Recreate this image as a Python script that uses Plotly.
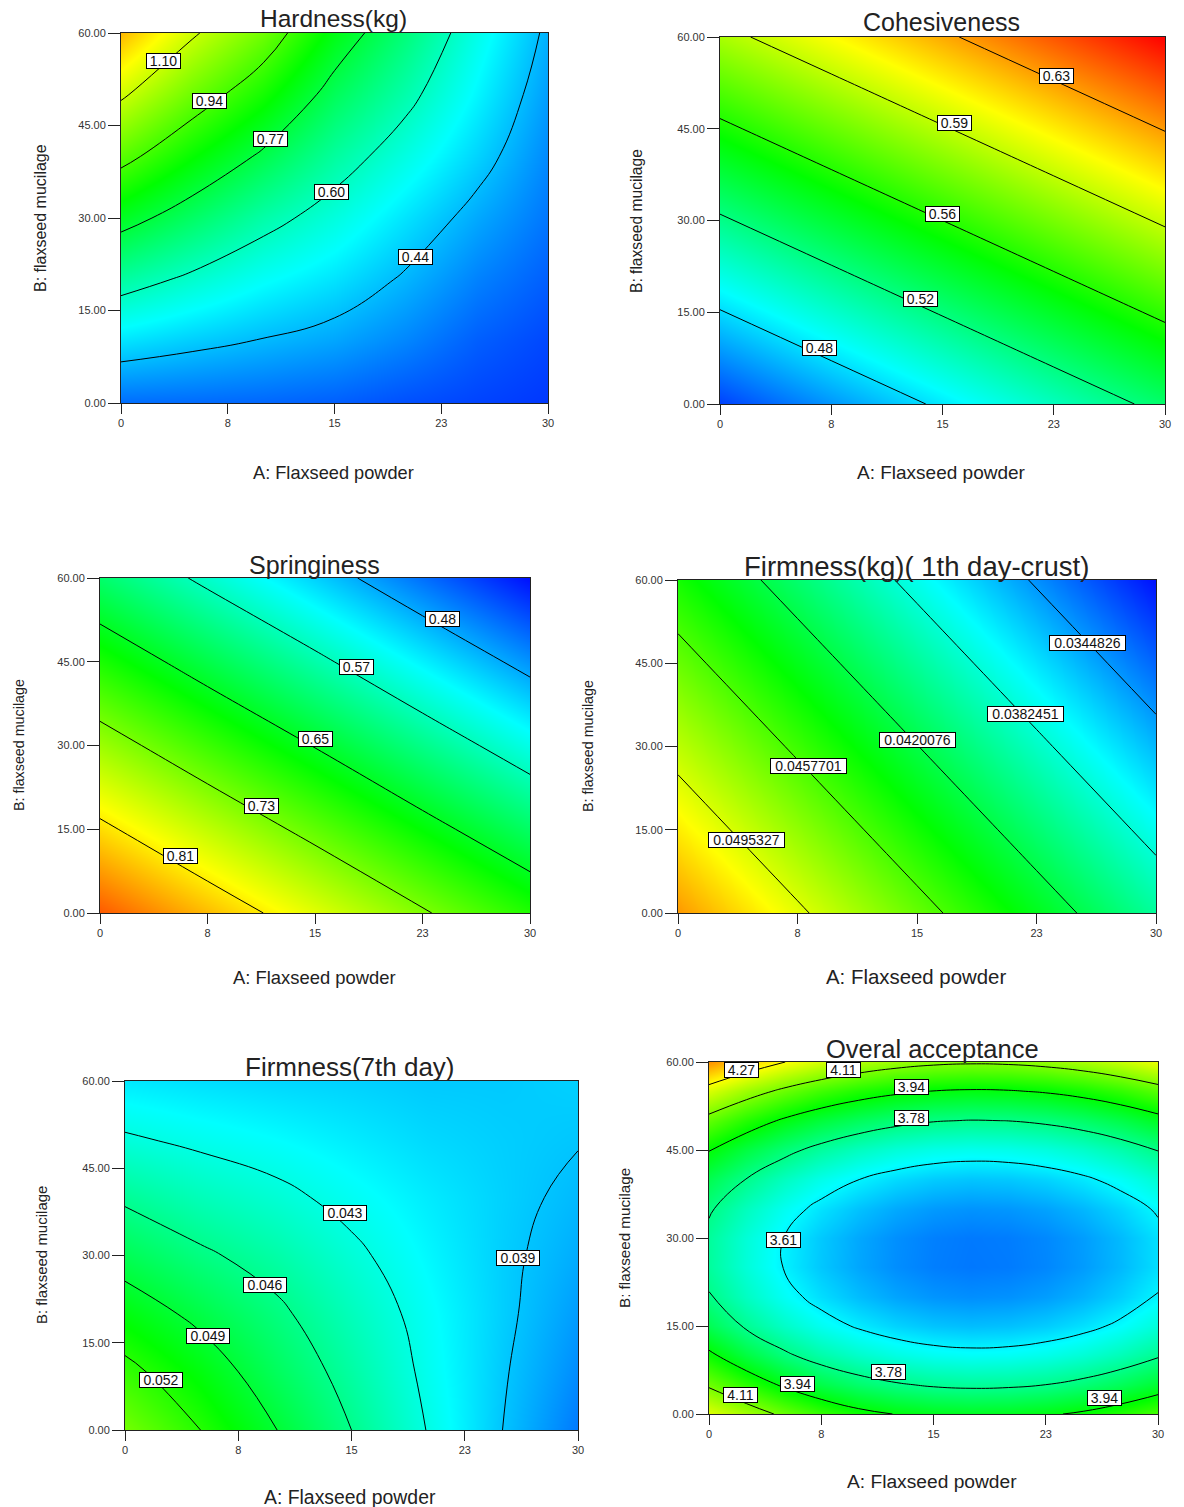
import plotly.graph_objects as go

W, H = 1184, 1507
FONT = "Liberation Sans"

X7 = [0, 5, 10, 15, 20, 25, 30]
Y7 = [0, 10, 20, 30, 40, 50, 60]
X5 = [0, 7.5, 15, 22.5, 30]
Y5 = [0, 15, 30, 45, 60]
X13 = [0, 2.5, 5, 7.5, 10, 12.5, 15, 17.5, 20, 22.5, 25, 27.5, 30]
Y13 = [0, 5, 10, 15, 20, 25, 30, 35, 40, 45, 50, 55, 60]

X_TICKS = [0, 7.5, 15, 22.5, 30]
X_TICKTEXT = ["0", "8", "15", "23", "30"]
Y_TICKS = [0, 15, 30, 45, 60]
Y_TICKTEXT = ["0.00", "15.00", "30.00", "45.00", "60.00"]

HARDNESS = [
    [0.338, 0.335, 0.330, 0.320, 0.300, 0.285, 0.270],
    [0.491, 0.461, 0.435, 0.410, 0.370, 0.320, 0.290],
    [0.645, 0.587, 0.532, 0.489, 0.430, 0.365, 0.320],
    [0.807, 0.722, 0.636, 0.566, 0.490, 0.415, 0.350],
    [0.965, 0.856, 0.755, 0.648, 0.560, 0.470, 0.375],
    [1.114, 0.987, 0.874, 0.735, 0.630, 0.515, 0.400],
    [1.265, 1.113, 0.992, 0.825, 0.695, 0.553, 0.425],
]
COHESIVENESS = [
    [0.445, 0.465, 0.485, 0.505, 0.525],
    [0.481, 0.501, 0.521, 0.541, 0.561],
    [0.517, 0.537, 0.557, 0.577, 0.597],
    [0.553, 0.573, 0.593, 0.613, 0.633],
    [0.589, 0.609, 0.629, 0.649, 0.669],
]
SPRINGINESS = [
    [0.892, 0.839, 0.787, 0.734, 0.682],
    [0.821, 0.768, 0.716, 0.663, 0.611],
    [0.750, 0.697, 0.645, 0.592, 0.540],
    [0.679, 0.626, 0.574, 0.521, 0.469],
    [0.608, 0.555, 0.503, 0.450, 0.398],
]
FIRMNESS_1 = [
    [0.05322, 0.04986, 0.04650, 0.04314, 0.03978],
    [0.05100, 0.04764, 0.04428, 0.04092, 0.03756],
    [0.04878, 0.04542, 0.04206, 0.03870, 0.03534],
    [0.04656, 0.04320, 0.03984, 0.03648, 0.03312],
    [0.04434, 0.04098, 0.03762, 0.03426, 0.03090],
]
FIRMNESS_7 = [
    [0.0553, 0.0523, 0.0491, 0.0458, 0.0425, 0.0393, 0.0365],
    [0.0530, 0.0505, 0.0476, 0.0449, 0.0421, 0.0395, 0.0372],
    [0.0505, 0.0484, 0.0463, 0.0440, 0.0418, 0.0397, 0.0378],
    [0.0479, 0.0462, 0.0448, 0.0430, 0.0413, 0.0397, 0.0384],
    [0.0454, 0.0441, 0.0431, 0.0419, 0.0408, 0.0398, 0.0389],
    [0.0428, 0.0421, 0.0415, 0.0408, 0.0401, 0.0397, 0.0394],
    [0.0407, 0.0403, 0.0400, 0.0398, 0.0395, 0.0395, 0.0398],
]
ACCEPTANCE = [
    [4.235, 4.160, 4.085, 4.020, 3.968, 3.937, 3.917, 3.909, 3.913, 3.928, 3.954, 3.992, 4.041],
    [4.090, 4.005, 3.925, 3.860, 3.815, 3.784, 3.764, 3.756, 3.760, 3.775, 3.801, 3.839, 3.888],
    [3.960, 3.868, 3.792, 3.734, 3.692, 3.661, 3.641, 3.633, 3.637, 3.652, 3.678, 3.716, 3.765],
    [3.845, 3.763, 3.697, 3.643, 3.601, 3.570, 3.550, 3.542, 3.546, 3.561, 3.587, 3.625, 3.674],
    [3.780, 3.703, 3.637, 3.583, 3.541, 3.510, 3.490, 3.482, 3.486, 3.501, 3.527, 3.565, 3.614],
    [3.751, 3.674, 3.608, 3.554, 3.512, 3.481, 3.461, 3.453, 3.457, 3.472, 3.498, 3.536, 3.585],
    [3.753, 3.676, 3.610, 3.556, 3.514, 3.483, 3.463, 3.455, 3.459, 3.474, 3.500, 3.538, 3.587],
    [3.786, 3.709, 3.643, 3.589, 3.547, 3.516, 3.496, 3.488, 3.492, 3.507, 3.533, 3.571, 3.620],
    [3.850, 3.773, 3.707, 3.653, 3.611, 3.580, 3.560, 3.552, 3.556, 3.571, 3.597, 3.635, 3.684],
    [3.944, 3.867, 3.801, 3.747, 3.705, 3.674, 3.654, 3.646, 3.650, 3.665, 3.691, 3.729, 3.778],
    [4.070, 3.993, 3.927, 3.873, 3.831, 3.800, 3.780, 3.772, 3.776, 3.791, 3.817, 3.855, 3.904],
    [4.227, 4.150, 4.084, 4.030, 3.988, 3.957, 3.937, 3.929, 3.933, 3.948, 3.974, 4.012, 4.061],
    [4.415, 4.338, 4.272, 4.218, 4.176, 4.145, 4.125, 4.117, 4.121, 4.136, 4.162, 4.200, 4.249],
]

COLORSCALE = [
    [0.00, "rgb(0,0,255)"],
    [0.25, "rgb(0,255,255)"],
    [0.50, "rgb(0,255,0)"],
    [0.75, "rgb(255,255,0)"],
    [1.00, "rgb(255,0,0)"],
]

X_TITLE = "A: Flaxseed powder"
Y_TITLE = "B: flaxseed mucilage"

PANELS = [
    dict(title="Hardness(kg)", tc=(333, 18), ts=24.5, box=(121, 548, 33, 403), x=X7, y=Y7, z=HARDNESS,
         zr=(0.20, 1.50), lev=(0.44, 1.105, 0.165),
         labels=[("1.10", 3.0, 55.4), ("0.94", 6.25, 49.0), ("0.77", 10.5, 42.8), ("0.60", 14.8, 34.2), ("0.44", 20.7, 23.7)],
         xt=(333, 473, 18.2), yt=(41, 218, 16)),
    dict(title="Cohesiveness", tc=(941, 22), ts=25, box=(720, 1165, 37, 404), x=X5, y=Y5, z=COHESIVENESS,
         zr=(0.43, 0.669), lev=(0.482, 0.635, 0.0375),
         labels=[("0.63", 22.7, 53.6), ("0.59", 15.8, 45.9), ("0.56", 15.0, 31.1), ("0.52", 13.5, 17.2), ("0.48", 6.7, 9.2)],
         xt=(941, 473, 19), yt=(637, 221, 15.6)),
    dict(title="Springiness", tc=(314, 565), ts=25, box=(100, 530, 578, 913), x=X5, y=Y5, z=SPRINGINESS,
         zr=(0.39, 0.94), lev=(0.482, 0.815, 0.0825),
         labels=[("0.48", 23.9, 52.7), ("0.57", 17.9, 44.0), ("0.65", 15.0, 31.2), ("0.73", 11.3, 19.2), ("0.81", 5.65, 10.2)],
         xt=(314, 977, 18.4), yt=(19, 745, 14.3)),
    dict(title="Firmness(kg)( 1th day-crust)", tc=(916, 567), ts=27.5, box=(678, 1156, 580, 913), x=X5, y=Y5, z=FIRMNESS_1,
         zr=(0.0305, 0.0572), lev=(0.0344826, 0.0496, 0.0037625),
         labels=[("0.0344826", 25.7, 48.6), ("0.0382451", 21.8, 35.9), ("0.0420076", 15.0, 31.2), ("0.0457701", 8.2, 26.5), ("0.0495327", 4.3, 13.2)],
         xt=(916, 977, 20.4), yt=(588, 746, 14.3)),
    dict(title="Firmness(7th day)", tc=(350, 1067), ts=26, box=(125, 578, 1081, 1430), x=X7, y=Y7, z=FIRMNESS_7,
         zr=(0.032, 0.070), lev=(0.0393, 0.0525, 0.00325),
         labels=[("0.043", 14.6, 37.3), ("0.039", 26.0, 29.5), ("0.046", 9.3, 25.0), ("0.049", 5.5, 16.2), ("0.052", 2.4, 8.6)],
         xt=(350, 1497, 19.4), yt=(41, 1255, 15)),
    dict(title="Overal acceptance", tc=(932, 1049), ts=25.5, box=(709, 1158, 1062, 1414), x=X13, y=Y13, z=ACCEPTANCE,
         zr=(3.30, 4.60), lev=(3.61, 4.28, 0.165),
         labels=[("4.27", 2.2, 58.6), ("4.11", 9.0, 58.6), ("3.94", 13.5, 55.7), ("3.78", 13.5, 50.4), ("3.61", 5.0, 29.6),
                 ("3.78", 12.0, 7.2), ("3.94", 5.9, 5.1), ("4.11", 2.1, 3.2), ("3.94", 26.4, 2.7)],
         xt=(932, 1481, 19.2), yt=(624, 1238, 15.2)),
]

fig = go.Figure()
annotations = []
layout = {}
INK = "#222222"


def paper_text(text, cx, cy, size, angle=0):
    return dict(text=text, xref="paper", yref="paper", x=cx / W, y=1 - cy / H, xanchor="center", yanchor="middle",
                showarrow=False, textangle=angle, font=dict(family=FONT, size=size, color=INK))


for i, p in enumerate(PANELS, start=1):
    l, r, t, b = p["box"]
    ax = "" if i == 1 else str(i)
    fig.add_trace(go.Heatmap(x=p["x"], y=p["y"], z=p["z"], zmin=p["zr"][0], zmax=p["zr"][1],
                             colorscale=COLORSCALE, zsmooth="best", showscale=False,
                             xaxis="x" + ax, yaxis="y" + ax, hoverinfo="skip"))
    fig.add_trace(go.Contour(x=p["x"], y=p["y"], z=p["z"], autocontour=False,
                             contours=dict(coloring="none", start=p["lev"][0], end=p["lev"][1], size=p["lev"][2]),
                             line=dict(color="black", width=1, smoothing=1.3), showscale=False,
                             xaxis="x" + ax, yaxis="y" + ax, hoverinfo="skip"))
    common = dict(showgrid=False, zeroline=False, showline=True, linecolor=INK, linewidth=1, mirror=True,
                  ticks="outside", tickwidth=1, tickcolor=INK, automargin=False,
                  tickfont=dict(family=FONT, size=11, color="#333333"), tickmode="array")
    layout["xaxis" + ax] = dict(domain=[l / W, r / W], anchor="y" + ax, range=[0, 30], ticklen=10,
                                tickvals=X_TICKS, ticktext=X_TICKTEXT, **common)
    layout["yaxis" + ax] = dict(domain=[1 - b / H, 1 - t / H], anchor="x" + ax, range=[0, 60], ticklen=12,
                                tickvals=Y_TICKS, ticktext=Y_TICKTEXT, **common)
    annotations.append(paper_text(p["title"], p["tc"][0], p["tc"][1], p["ts"]))
    annotations.append(paper_text(X_TITLE, *p["xt"]))
    annotations.append(paper_text(Y_TITLE, *p["yt"], angle=-90))
    for text, lx, ly in p["labels"]:
        annotations.append(dict(text=text, xref="x" + ax, yref="y" + ax, x=lx, y=ly, showarrow=False,
                                xanchor="center", yanchor="middle", align="center",
                                width=round(8.3 * len(text)), height=14, bgcolor="white",
                                bordercolor="black", borderwidth=1, borderpad=0,
                                font=dict(family=FONT, size=14, color="#111111")))

fig.update_layout(width=W, height=H, margin=dict(l=0, r=0, t=0, b=0), paper_bgcolor="white",
                  plot_bgcolor="white", showlegend=False, annotations=annotations, **layout)
fig.write_html("out.html", config={"displayModeBar": False}, post_script="document.body.style.margin='0';")
